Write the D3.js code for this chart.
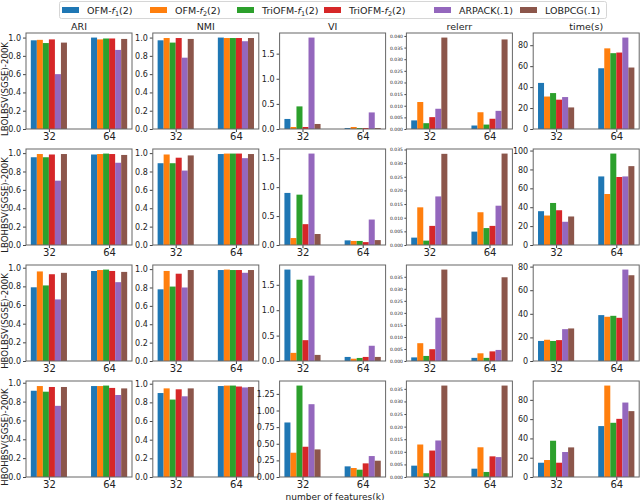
<!DOCTYPE html>
<html>
<head>
<meta charset="utf-8">
<script src="https://d3js.org/d3.v7.min.js"></script>
<style>
  body { margin: 0; background: #fff; }
  text { font-family: "DejaVu Sans", sans-serif; fill: #222; }
</style>
</head>
<body>
<script>
// categories
var methods = ["OFM", "OFM", "TriOFM", "TriOFM", "ARPACK(.1)", "LOBPCG(.1)"];
var methodSub = ["1", "2", "1", "2", null, null];
var colors = ["#1f77b4", "#ff7f0e", "#2ca02c", "#d62728", "#9467bd", "#8c564b"];
var features = ["32", "64"];
var datasets = ["LBOLBSV(SGSE)-200K", "LBOHBSV(SGSE)-200K", "HBOLBSV(SGSE)-200K", "HBOHBSV(SGSE)-200K"];
var metrics = ["ARI", "NMI", "VI", "relerr", "time(s)"];

// values: [dataset][feature][method]
var ari = [
  [[0.97, 0.975, 0.94, 0.98, 0.60, 0.945], [1.0, 0.98, 0.99, 0.99, 0.865, 0.985]],
  [[0.955, 0.99, 0.955, 0.985, 0.70, 0.99], [0.985, 0.99, 0.995, 0.99, 0.895, 0.98]],
  [[0.79, 0.96, 0.81, 0.93, 0.66, 0.945], [0.965, 0.975, 0.98, 0.965, 0.845, 0.955]],
  [[0.915, 0.965, 0.905, 0.955, 0.755, 0.955], [0.965, 0.965, 0.97, 0.945, 0.87, 0.94]]
];
var nmi = [
  [[0.97, 0.995, 0.945, 0.995, 0.78, 0.985], [1.0, 0.995, 0.995, 0.995, 0.96, 0.995]],
  [[0.89, 0.985, 0.89, 0.95, 0.81, 0.975], [0.99, 0.995, 0.995, 0.995, 0.945, 0.99]],
  [[0.78, 0.98, 0.81, 0.95, 0.80, 0.99], [0.99, 0.995, 0.99, 0.99, 0.96, 0.99]],
  [[0.90, 0.95, 0.83, 0.94, 0.865, 0.95], [0.975, 0.98, 0.98, 0.97, 0.96, 0.965]]
];
var vi = [
  [[0.20, 0.04, 0.45, 0.04, 1.82, 0.10], [0.02, 0.04, 0.02, 0.02, 0.33, 0.02]],
  [[0.90, 0.12, 0.87, 0.36, 1.58, 0.19], [0.08, 0.07, 0.07, 0.05, 0.44, 0.085]],
  [[1.80, 0.16, 1.60, 0.41, 1.68, 0.12], [0.08, 0.045, 0.06, 0.08, 0.30, 0.08]],
  [[0.82, 0.365, 1.375, 0.455, 1.095, 0.415], [0.16, 0.135, 0.11, 0.205, 0.315, 0.245]]
];
var relerr = [
  [[0.0037, 0.0116, 0.0025, 0.0051, 0.0087, 0.0393], [0.0015, 0.0072, 0.0019, 0.0044, 0.0078, 0.0385]],
  [[0.0027, 0.0138, 0.0016, 0.0070, 0.0178, 0.0334], [0.0049, 0.0120, 0.0062, 0.0070, 0.0144, 0.0335]],
  [[0.0015, 0.0074, 0.0021, 0.0049, 0.0180, 0.0380], [0.0013, 0.0032, 0.0013, 0.0040, 0.0046, 0.0348]],
  [[0.0045, 0.0129, 0.0015, 0.0105, 0.0145, 0.0363], [0.0033, 0.0118, 0.0020, 0.0082, 0.0079, 0.0363]]
];
var time = [
  [[44, 31, 34.3, 28, 30.5, 20.6], [58, 77, 72.4, 73, 87.3, 58.7]],
  [[35.8, 31.2, 44.5, 36.8, 24.6, 30.2], [72.6, 54, 96.8, 72, 72.6, 83.5]],
  [[17, 18, 17, 17.7, 27, 27.6], [38.9, 37.5, 38.3, 36.6, 77.5, 72.7]],
  [[14.8, 17.6, 37.6, 14.8, 25.9, 30.7], [52.8, 94.8, 56.2, 60.3, 77.2, 68.3]]
];
var metricData = [ari, nmi, vi, relerr, time];

// tick steps and formats per metric and row (VI in last row uses 0.25 steps)
var tickSteps = [[0.2, 0.2, 0.2, 0.2], [0.2, 0.2, 0.2, 0.2], [0.5, 0.5, 0.5, 0.25],
                 [0.005, 0.005, 0.005, 0.005], [20, 20, 20, 20]];
var tickFormats = [[".1f", ".1f", ".1f", ".1f"], [".1f", ".1f", ".1f", ".1f"], [".1f", ".1f", ".1f", ".2f"],
                   [".3f", ".3f", ".3f", ".3f"], ["d", "d", "d", "d"]];

var W = 640, H = 500;
var svg = d3.select("body").append("svg").attr("width", W).attr("height", H);

var left0 = 26, colStep = 126.8, pw = 106;
var top0 = 33, rowStep = 116, ph = 96;

// legend
var leg = svg.append("g");
leg.append("rect").attr("x", 59.5).attr("y", 1.5).attr("width", 547).attr("height", 17)
  .attr("rx", 2).attr("fill", "#fff").attr("stroke", "#d6d6d6");
var legX = [62, 150, 237, 324, 434, 520];
methods.forEach(function(m, i) {
  var g = leg.append("g").attr("transform", "translate(" + legX[i] + ",0)");
  g.append("rect").attr("x", 0).attr("y", 7).attr("width", 17).attr("height", 6).attr("fill", colors[i]);
  var t = g.append("text").attr("x", 25).attr("y", 13.5).attr("font-size", 9.5);
  if (methodSub[i]) {
    t.append("tspan").text(m + "-");
    t.append("tspan").attr("font-style", "italic").text("f");
    t.append("tspan").attr("font-size", 6.5).attr("dy", 2).text(methodSub[i]);
    t.append("tspan").attr("dy", -2).text("(2)");
  } else {
    t.text(m);
  }
});

datasets.forEach(function(ds, r) {
  var top = top0 + r * rowStep;
  metrics.forEach(function(metric, c) {
    var left = left0 + c * colStep;
    var vals = metricData[c][r];
    var ymax = d3.max(vals, function(g) { return d3.max(g); }) * 1.05;

    var x = d3.scaleLinear().domain([-0.38, 1.38]).range([left, left + pw]);
    var y = d3.scaleLinear().domain([0, ymax]).range([top + ph, top]);

    var g = svg.append("g");

    // bars
    vals.forEach(function(grp, gi) {
      g.selectAll(null).data(grp).enter().append("rect")
        .attr("x", function(d, i) { return x(gi + (i - 2.5) * 0.1 - 0.05); })
        .attr("width", function() { return x(0.1) - x(0); })
        .attr("y", function(d) { return y(d); })
        .attr("height", function(d) { return y(0) - y(d); })
        .attr("fill", function(d, i) { return colors[i]; });
    });

    // y axis
    var step = tickSteps[c][r];
    var ticks = d3.range(0, ymax + step * 1e-6, step);
    var fs = c === 3 ? 4.5 : 8;
    var yAxis = d3.axisLeft(y).tickValues(ticks).tickFormat(d3.format(tickFormats[c][r]))
      .tickSize(c === 3 ? 2 : 3).tickPadding(c === 3 ? 1.5 : 2);
    var ya = g.append("g").attr("transform", "translate(" + left + ",0)").call(yAxis);
    ya.select(".domain").remove();
    ya.selectAll("line").attr("stroke", "#444");
    ya.selectAll("text").attr("font-size", fs).attr("font-family", "DejaVu Sans").attr("fill", "#222");

    // x axis
    var xAxis = d3.axisBottom(x).tickValues([0, 1]).tickFormat(function(d) { return features[d]; })
      .tickSize(3).tickPadding(1);
    var xa = g.append("g").attr("transform", "translate(0," + (top + ph) + ")").call(xAxis);
    xa.select(".domain").remove();
    xa.selectAll("line").attr("stroke", "#444");
    xa.selectAll("text").attr("font-size", 10).attr("font-family", "DejaVu Sans").attr("fill", "#222");

    // frame
    g.append("rect").attr("x", left).attr("y", top).attr("width", pw).attr("height", ph)
      .attr("fill", "none").attr("stroke", "#666").attr("stroke-width", 1);

    // column titles on first row
    if (r === 0) {
      svg.append("text").attr("x", left + pw / 2).attr("y", top - 3).attr("text-anchor", "middle")
        .attr("font-size", 9.5).text(metric);
    }
  });

  // row label
  var cy = top + ph / 2 + 8;
  svg.append("text").attr("transform", "translate(7.5," + cy + ") rotate(-90)")
    .attr("text-anchor", "middle").attr("font-size", 8.6).text(ds);
});

svg.append("text").attr("x", 335).attr("y", 499.5).attr("text-anchor", "middle")
  .attr("font-size", 9).text("number of features(k)");
</script>
</body>
</html>
